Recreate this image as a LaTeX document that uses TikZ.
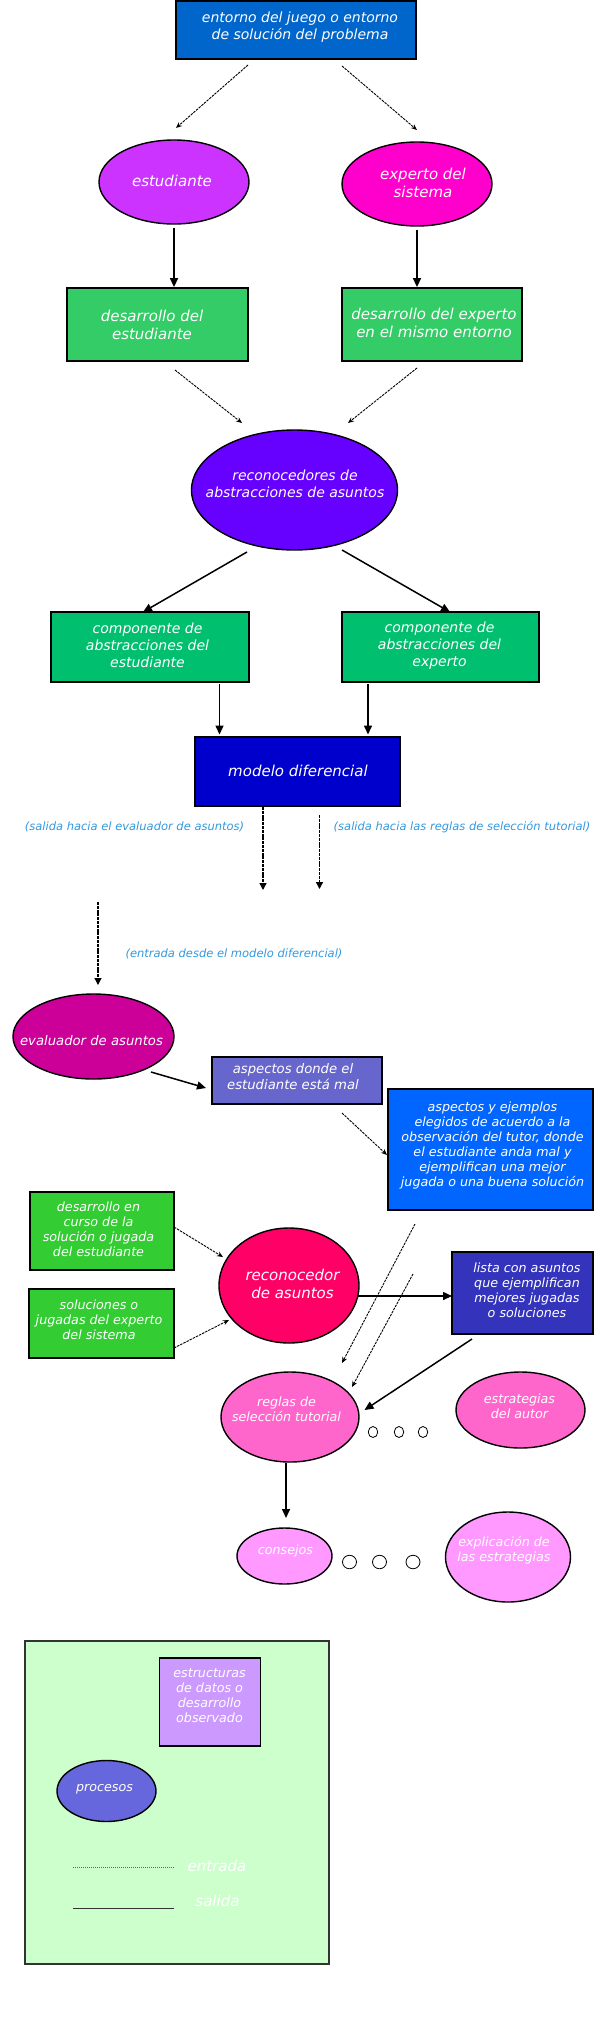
\documentclass[tikz,border=0pt]{standalone}
\usepackage{fontspec}
\setmainfont{DejaVu Sans}
\usetikzlibrary{shapes.geometric,arrows.meta,calc}
\definecolor{cTop}{HTML}{0066CC}
\definecolor{cEst}{HTML}{CC33FF}
\definecolor{cExp}{HTML}{FF00CC}
\definecolor{cDes}{HTML}{33CC66}
\definecolor{cRecos}{HTML}{6600FF}
\definecolor{cComp}{HTML}{00BF6F}
\definecolor{cModelo}{HTML}{0000CC}
\definecolor{cLbl}{HTML}{3399DD}
\definecolor{cEval}{HTML}{CC0099}
\definecolor{cAspMal}{HTML}{6666CC}
\definecolor{cAspEj}{HTML}{0066FF}
\definecolor{cGreen}{HTML}{33CC33}
\definecolor{cRecon}{HTML}{FF0066}
\definecolor{cLista}{HTML}{3333BB}
\definecolor{cReglas}{HTML}{FF66CC}
\definecolor{cPink}{HTML}{FF99FF}
\definecolor{cLegend}{HTML}{CCFFCC}
\definecolor{cEstruc}{HTML}{CC99FF}
\definecolor{cProc}{HTML}{6666DD}
\begin{document}
\begin{tikzpicture}[x=1pt,y=-1pt,
  rbox/.style={draw=black, line width=1.8pt, rectangle, inner sep=0pt},
  oval/.style={draw=black, line width=1.4pt, ellipse, inner sep=0pt},
  txtbase/.style={text=white, align=center, inner sep=0pt},
  tA/.style={txtbase, font=\fontsize{15}{18}\selectfont\itshape},
  tB/.style={txtbase, font=\fontsize{14}{17}\selectfont\itshape},
  tC/.style={txtbase, font=\fontsize{13.2}{16}\selectfont\itshape},
  tD/.style={txtbase, font=\fontsize{12.7}{15}\selectfont\itshape},
  tLbl/.style={inner sep=0pt, text=cLbl, font=\fontsize{11.5}{14}\selectfont\itshape},
  arr/.style={line width=1.5pt, -{Triangle[length=9pt,width=8pt]}},
  darr/.style={line width=0.9pt, dash pattern=on 2.5pt off 1pt, -{Stealth[length=6pt,width=5pt]}},
  vdarr/.style={line width=1.3pt, dash pattern=on 3pt off 0.8pt, -{Triangle[length=7pt,width=7pt]}},
  dot/.style={draw=black, line width=0.8pt, fill=white, ellipse, inner sep=0pt}
]
\useasboundingbox (0,0) rectangle (595,2018);

% ---- top part
\node[rbox, fill=cTop, minimum width=240pt, minimum height=58pt] (top) at (296,30) {};
\node[tB] (topt) at (300,27) {entorno del juego o entorno\\de solución del problema};

\node[oval, fill=cEst, minimum width=150pt, minimum height=84pt] (estud) at (174,182) {};
\node[tA] (estudt) at (172,181) {estudiante};
\node[oval, fill=cExp, minimum width=150pt, minimum height=84pt] (exper) at (417,184) {};
\node[tA] (expert) at (423,182.5) {experto del\\sistema};

\node[rbox, fill=cDes, minimum width=181pt, minimum height=73pt] (desest) at (157.5,324.5) {};
\node[tA] (desestt) at (152,324.5) {desarrollo del\\estudiante};
\node[rbox, fill=cDes, minimum width=180pt, minimum height=73pt] (desexp) at (432,324.5) {};
\node[tA] (desexpt) at (434,323) {desarrollo del experto\\en el mismo entorno};

\node[oval, fill=cRecos, minimum width=206pt, minimum height=120pt] (recos) at (294.5,490) {};
\node[tB] (recost) at (295,483.5) {reconocedores de\\abstracciones de asuntos};

\node[rbox, fill=cComp, minimum width=198pt, minimum height=70pt] (compest) at (150,647) {};
\node[tB] (compestt) at (147.5,645.5) {componente de\\abstracciones del\\estudiante};
\node[rbox, fill=cComp, minimum width=197pt, minimum height=70pt] (compexp) at (440.5,647) {};
\node[tB] (compexpt) at (439.5,645.5) {componente de\\abstracciones del\\experto};

\node[rbox, fill=cModelo, minimum width=205pt, minimum height=69pt] (modelo) at (297.5,771.5) {};
\node[tA] (modelot) at (298,770.5) {modelo diferencial};

\node[tLbl] (lbl1) at (134.5,827) {(salida hacia el evaluador de asuntos)};
\node[tLbl] (lbl2) at (462,827) {(salida hacia las reglas de selección tutorial)};
\node[tLbl] (lbl3) at (234,953.5) {(entrada desde el modelo diferencial)};

\coordinate (m1) at (263,890);
\coordinate (m2) at (319.5,889);
\coordinate (e0) at (98,902);
\coordinate (r0) at (413,1274);

% ---- middle part
\node[oval, fill=cEval, minimum width=161pt, minimum height=85pt] (eval) at (93.5,1036.5) {};
\node[tC] (evalt) at (91.5,1040.5) {evaluador de asuntos};

\node[rbox, fill=cAspMal, minimum width=170pt, minimum height=47pt] (aspmal) at (297,1080.5) {};
\node[tC] (aspmalt) at (293,1076.5) {aspectos donde el\\estudiante está mal};

\node[rbox, fill=cAspEj, minimum width=205pt, minimum height=121pt] (aspej) at (490.5,1149.5) {};
\node[tD] (aspejt) at (492.5,1145.5) {aspectos y ejemplos\\elegidos de acuerdo a la\\observación del tutor, donde\\el estudiante anda mal y\\ejemplifican una mejor\\jugada o una buena solución};

\node[rbox, fill=cGreen, minimum width=144pt, minimum height=78pt] (descurso) at (102,1231) {};
\node[tD] (descursot) at (98.5,1229) {desarrollo en\\curso de la\\solución o jugada\\del estudiante};
\node[rbox, fill=cGreen, minimum width=145pt, minimum height=69pt] (solexp) at (101.5,1323.5) {};
\node[tD] (solexpt) at (99,1320) {soluciones o\\jugadas del experto\\del sistema};

\node[oval, fill=cRecon, minimum width=140pt, minimum height=115pt] (recon) at (289,1285.5) {};
\node[tA] (recont) at (292.5,1284) {reconocedor\\de asuntos};

\node[rbox, fill=cLista, minimum width=141pt, minimum height=82pt] (lista) at (522.5,1293) {};
\node[tD] (listat) at (527,1290) {lista con asuntos\\que ejemplifican\\mejores jugadas\\o soluciones};

\node[oval, fill=cReglas, minimum width=138pt, minimum height=90pt] (reglas) at (290,1417) {};
\node[tD] (reglast) at (286.5,1409.5) {reglas de\\selección tutorial};
\node[oval, fill=cReglas, minimum width=129pt, minimum height=76pt] (estrat) at (520.5,1410) {};
\node[tD] (estratt) at (519.5,1406) {estrategias\\del autor};

\node[dot, minimum width=9.5pt, minimum height=11pt] (c1) at (373,1432) {};
\node[dot, minimum width=9.5pt, minimum height=11pt] (c2) at (399,1432) {};
\node[dot, minimum width=9.5pt, minimum height=11pt] (c3) at (423,1432) {};

\node[oval, fill=cPink, minimum width=95pt, minimum height=56pt] (consejos) at (284.5,1556) {};
\node[tD] (consejost) at (285.5,1551) {consejos};
\node[dot, minimum width=14pt, minimum height=13.5pt] (d1) at (349.5,1562) {};
\node[dot, minimum width=14pt, minimum height=13.5pt] (d2) at (379.5,1562) {};
\node[dot, minimum width=14pt, minimum height=13.5pt] (d3) at (413,1562) {};
\node[oval, fill=cPink, minimum width=125pt, minimum height=90pt] (explic) at (508,1557) {};
\node[tD] (explict) at (504,1550.5) {explicación de\\las estrategias};

% ---- legend
\node[draw=black!80, line width=1.2pt, fill=cLegend, rectangle, inner sep=0pt, minimum width=304pt, minimum height=323pt] (legend) at (177,1802.5) {};
\node[rbox, fill=cEstruc, minimum width=101pt, minimum height=88pt] (estruc) at (210,1702) {};
\node[tD] (estruct) at (209.5,1695.5) {estructuras\\de datos o\\desarrollo\\observado};
\node[oval, fill=cProc, minimum width=99pt, minimum height=61pt] (procesos) at (106.5,1791) {};
\node[tD] (procesost) at (104.5,1789) {procesos};
\node[tA] (entradat) at (217,1865.5) {entrada};
\node[tA] (salidat) at (217.5,1901) {salida};
\coordinate (la) at (73,1867);
\coordinate (lb) at (175,1867);
\coordinate (lc) at (73,1908);
\coordinate (ld) at (174,1908);
\draw[black!60, line width=0.8pt, dash pattern=on 1pt off 1pt] (la) -- (lb);
\draw[black!80, line width=0.8pt] (lc) -- (ld);

% ---- connectors
\draw[darr] ([shift={(-48,35)}]top.center) -- ([shift={(2,-54)}]estud.center);
\draw[darr] ([shift={(46,36)}]top.center) -- ([shift={(0,-54)}]exper.center);
\draw[arr] ([shift={(0,3)}]estud.south) -- (estud.south |- desest.north);
\draw[arr] ([shift={(0,3)}]exper.south) -- (exper.south |- desexp.north);
\draw[darr] ([shift={(17.5,45.5)}]desest.center) -- ([shift={(-52.5,-67)}]recos.center);
\draw[darr] ([shift={(-15,43.5)}]desexp.center) -- ([shift={(53.5,-67)}]recos.center);
\draw[arr] ([shift={(-47.5,62)}]recos.center) -- ([shift={(-7,-35)}]compest.center);
\draw[arr] ([shift={(47.5,60)}]recos.center) -- ([shift={(9.5,-35)}]compexp.center);
\draw[arr] ([shift={(69.5,37)}]compest.center) -- ([shift={(-78,-37)}]modelo.center);
\draw[arr] ([shift={(-72.5,37)}]compexp.center) -- ([shift={(70.5,-37)}]modelo.center);
\draw[vdarr] ([shift={(-34.5,35.5)}]modelo.center) -- (m1);
\draw[vdarr] ([shift={(22,43.5)}]modelo.center) -- (m2);
\draw[vdarr] (e0) -- ([shift={(4.5,-51.5)}]eval.center);
\draw[arr] ([shift={(57.5,35.5)}]eval.center) -- ([shift={(-91,7.5)}]aspmal.center);
\draw[darr] ([shift={(45,32.5)}]aspmal.center) -- ([shift={(-103.5,5.5)}]aspej.center);
\draw[darr] ([shift={(72,-4)}]descurso.center) -- ([shift={(-66,-28.5)}]recon.center);
\draw[darr] ([shift={(72.5,24.5)}]solexp.center) -- ([shift={(-60,34.5)}]recon.center);
\draw[darr] ([shift={(-75.5,74.5)}]aspej.center) -- ([shift={(52,-54)}]reglas.center);
\draw[darr] (r0) -- ([shift={(62,-30)}]reglas.center);
\draw[arr] ([shift={(69,10.5)}]recon.center) -- ([shift={(-70.5,3)}]lista.center);
\draw[arr] ([shift={(-50.5,46)}]lista.center) -- ([shift={(74.5,-7)}]reglas.center);
\draw[arr] ([shift={(-4,46)}]reglas.center) -- ([shift={(1.5,-38)}]consejos.center);
\end{tikzpicture}
\end{document}
